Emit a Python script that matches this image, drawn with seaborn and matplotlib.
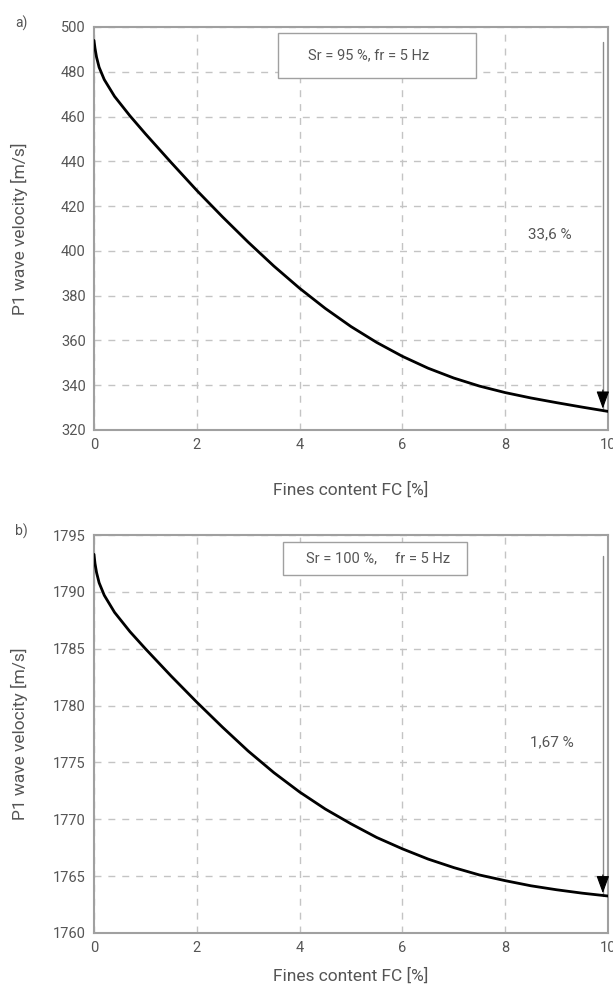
import matplotlib
matplotlib.use("Agg")
import matplotlib.pyplot as plt
import seaborn as sns
import pandas as pd
from matplotlib.patches import Rectangle

# ---- data ----
fc = [0, 0.02, 0.05, 0.1, 0.2, 0.4, 0.7, 1, 1.5, 2, 2.5, 3, 3.5, 4, 4.5, 5,
      5.5, 6, 6.5, 7, 7.5, 8, 8.5, 9, 9.5, 10]
vp_sr95 = [494, 490.5, 486.5, 482, 476.5, 469, 460.3, 452.3, 439.5, 427,
           415.2, 403.9, 393.2, 383.3, 374.3, 366.2, 359.1, 352.9, 347.6,
           343.2, 339.6, 336.7, 334.3, 332.2, 330.2, 328.3]
vp_sr100 = [1793.3, 1792.5, 1791.7, 1790.8, 1789.7, 1788.2, 1786.5, 1785.0,
            1782.6, 1780.3, 1778.1, 1776.0, 1774.1, 1772.4, 1770.9, 1769.6,
            1768.4, 1767.4, 1766.5, 1765.75, 1765.1, 1764.6, 1764.15, 1763.8,
            1763.5, 1763.25]
x_ticks = [0, 2, 4, 6, 8, 10]
y_ticks_a = [320, 340, 360, 380, 400, 420, 440, 460, 480, 500]
y_ticks_b = [1760, 1765, 1770, 1775, 1780, 1785, 1790, 1795]
panel_labels = ["a)", "b)"]
box_texts = ["Sr = 95 %, fr = 5 Hz", "Sr = 100 %,     fr = 5 Hz"]
pct_texts = ["33,6 %", "1,67 %"]
xlabel = "Fines content FC [%]"
ylabel = "P1 wave velocity [m/s]"

sns.set_style("white")
plt.rcParams["font.family"] = ["Roboto", "DejaVu Sans"]

GRAY = "#8a8a8a"
TXT = "#555555"

fig = plt.figure(figsize=(6.13, 9.88), dpi=100)
ax_a = fig.add_axes([0.1533, 0.5648, 0.8385, 0.4079])
ax_b = fig.add_axes([0.1533, 0.0557, 0.8385, 0.4028])

specs = [
    (ax_a, vp_sr95, y_ticks_a, (0.358, 0.873, 0.385, 0.112), (0.535, 0.93),
     (8.87, 407.4), 21),
    (ax_b, vp_sr100, y_ticks_b, (0.368, 0.899, 0.358, 0.083), (0.553, 0.942),
     (8.9, 1776.8), 9),
]

for i, (ax, vals, yt, rect, tpos, ppos, xlp) in enumerate(specs):
    df = pd.DataFrame({"FC": fc, "Vp": vals})
    sns.lineplot(data=df, x="FC", y="Vp", ax=ax, color="black", lw=2.0,
                 zorder=5)
    ax.set_xlim(0, 10)
    ax.set_ylim(yt[0], yt[-1])
    ax.set_xticks(x_ticks)
    ax.set_yticks(yt)
    ax.grid(True, color="#c4c4c4", linestyle=(0, (5, 5)), lw=1.0)
    ax.tick_params(axis="both", length=0, labelsize=10.5, labelcolor=TXT,
                   pad=6)
    for sp in ax.spines.values():
        sp.set_color("#a0a0a0")
        sp.set_linewidth(1.5)
    ax.set_xlabel(xlabel, fontsize=12.5, color=TXT, labelpad=xlp)
    ax.set_ylabel(ylabel, fontsize=12.5, color=TXT)
    ax.yaxis.set_label_coords(-0.128, 0.5)
    # box with condition text
    ax.add_patch(Rectangle((rect[0], rect[1]), rect[2], rect[3],
                           transform=ax.transAxes, facecolor="white",
                           edgecolor="#a0a0a0", lw=1.0, zorder=6))
    ax.text(tpos[0], tpos[1], box_texts[i], transform=ax.transAxes,
            ha="center", va="center", fontsize=10.5, color=TXT, zorder=7)
    # percentage annotation + arrow
    ax.text(ppos[0], ppos[1], pct_texts[i], ha="center", va="center",
            fontsize=11, color=TXT, zorder=7)
    x_arr = 9.9
    ax.plot([x_arr, x_arr], [vals[0] - 0.005 * (vals[0] - vals[-1]),
                             vals[-1]], color=GRAY, lw=1.0, zorder=4)
    ax.annotate("", xy=(x_arr, vals[-1]),
                xytext=(x_arr, vals[-1] + (yt[-1] - yt[0]) * 0.06),
                arrowprops=dict(arrowstyle="-|>,head_length=0.6,head_width=0.22",
                                color="black", lw=0.8, mutation_scale=18),
                zorder=6)
    fig.text(0.025, ax.get_position().y1 + 0.004, panel_labels[i],
             fontsize=10, color=TXT, ha="left", va="center")

fig.savefig("out.png", dpi=100)
